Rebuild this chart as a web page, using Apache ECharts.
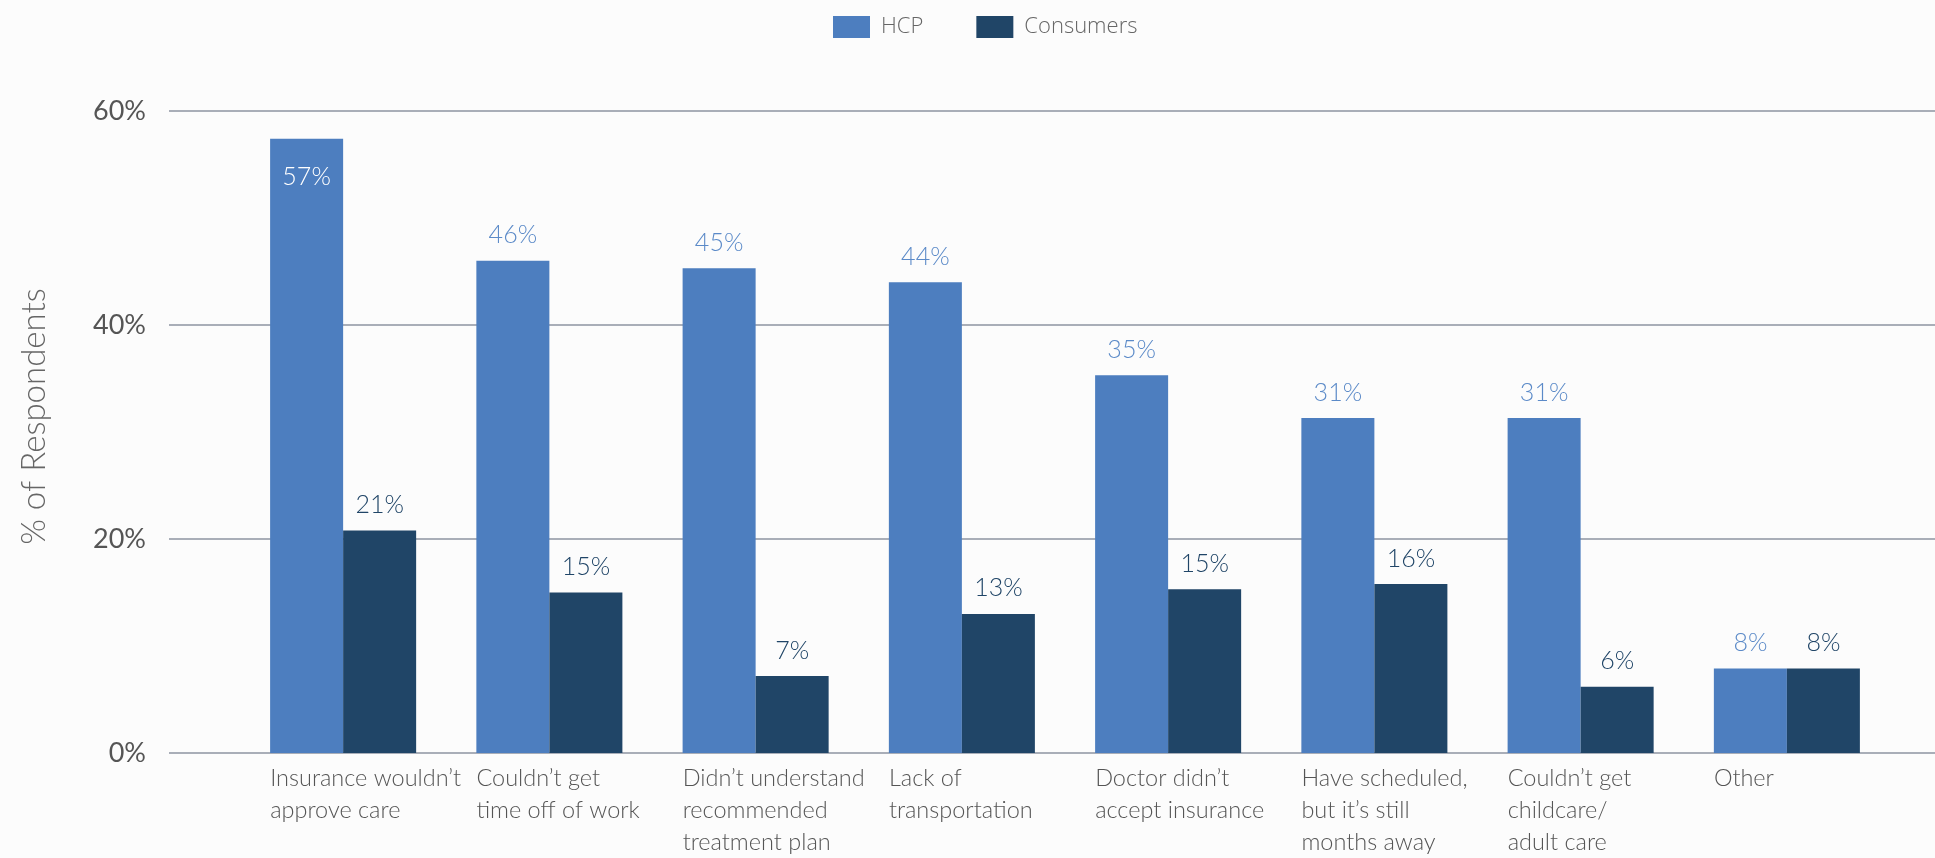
<!DOCTYPE html>
<html>
<head>
<meta charset="utf-8">
<script src="https://cdn.jsdelivr.net/npm/echarts@6/dist/echarts.min.js"></script>
<style>
html,body{margin:0;padding:0;background:#fcfcfc;}
#chart{width:1935px;height:858px;}
</style>
</head>
<body>
<div id="chart"></div>
<script>
var categories = [
  'Insurance wouldn\u2019t\napprove care',
  'Couldn\u2019t get\ntime off of work',
  'Didn\u2019t understand\nrecommended\ntreatment plan',
  'Lack of\ntransportation',
  'Doctor didn\u2019t\naccept insurance',
  'Have scheduled,\nbut it\u2019s still\nmonths away',
  'Couldn\u2019t get\nchildcare/\nadult care',
  'Other'
];
var hcpValues = [57.4, 46.0, 45.3, 44.0, 35.3, 31.3, 31.3, 7.9];
var consumerValues = [20.8, 15.0, 7.2, 13.0, 15.3, 15.8, 6.2, 7.9];
var yTicks = [0, 20, 40, 60];

var chart = echarts.init(document.getElementById('chart'), null, {renderer: 'canvas'});
var font = 'Lato, "Open Sans", sans-serif';
var option = {
  backgroundColor: '#fcfcfc',
  animation: false,
  legend: {
    left: 828, top: 11,
    itemWidth: 37, itemHeight: 22, itemGap: 53,
    icon: 'rect',
    textStyle: {fontFamily: '"Open Sans", sans-serif', fontWeight: 300, fontSize: 22, color: '#666', padding: [0, 0, 0, 6]},
    data: ['HCP', 'Consumers']
  },
  grid: [
    {left: 169, right: 0, top: 111, bottom: 105},
    {left: 240, right: 45, top: 111, bottom: 105},
    {left: 167, right: 118, top: 111, bottom: 105}
  ],
  xAxis: [
    {type: 'value', gridIndex: 0, show: false, min: 0, max: 1},
    {type: 'category', gridIndex: 1, data: categories, axisLine: {show: false}, axisTick: {show: false}, axisLabel: {show: false}},
    {type: 'category', gridIndex: 2, data: categories, axisLine: {show: false}, axisTick: {show: false},
      axisLabel: {interval: 0, align: 'left', margin: 12, lineHeight: 32, fontSize: 23.5, fontWeight: 300,
        fontFamily: font, color: '#555'}}
  ],
  yAxis: [
    {type: 'value', gridIndex: 0, min: yTicks[0], max: yTicks[yTicks.length - 1], interval: 20,
      name: '% of Respondents', nameLocation: 'middle', nameGap: 118, nameRotate: 90,
      nameTextStyle: {fontFamily: font, fontWeight: 300, fontSize: 33, color: '#666', padding: [0, 0, 0, 31]},
      axisLine: {show: false}, axisTick: {show: false},
      axisLabel: {formatter: '{value}%', margin: 23, fontFamily: font, fontSize: 27, color: '#555'},
      splitLine: {lineStyle: {color: '#a9aeb8', width: 2}}},
    {type: 'value', gridIndex: 1, min: 0, max: 60, show: false},
    {type: 'value', gridIndex: 2, min: 0, max: 60, show: false}
  ],
  series: [
    {name: 'HCP', type: 'bar', xAxisIndex: 1, yAxisIndex: 1, data: hcpValues.map(function (v, i) {
        return i === 0 ? {value: v, label: {position: 'insideTop', distance: 26, color: '#ffffff'}} : v;
      }),
      barGap: '0%', barCategoryGap: '29.2%',
      itemStyle: {color: '#4d7ebf'},
      label: {show: true, position: 'top', distance: 13, fontFamily: font, fontWeight: 300, fontSize: 25, color: '#5b8ac8',
        formatter: function (p) { return Math.round(p.value) + '%'; }}},
    {name: 'Consumers', type: 'bar', xAxisIndex: 1, yAxisIndex: 1, data: consumerValues,
      barGap: '0%', barCategoryGap: '29.2%',
      itemStyle: {color: '#204567'},
      label: {show: true, position: 'top', distance: 13, fontFamily: font, fontWeight: 300, fontSize: 25, color: '#204567',
        formatter: function (p) { return Math.round(p.value) + '%'; }}}
  ]
};
chart.setOption(option);
</script>
</body>
</html>
